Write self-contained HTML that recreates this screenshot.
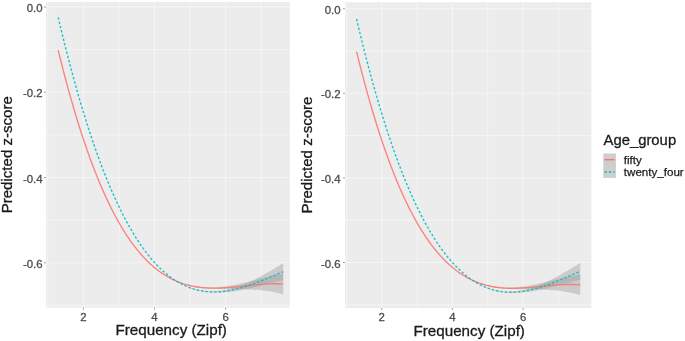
<!DOCTYPE html>
<html><head><meta charset="utf-8"><style>
html,body{margin:0;padding:0;background:#fff;}
body{width:685px;height:341px;overflow:hidden;}
svg{display:block;filter:blur(0.55px);}
text{font-family:"Liberation Sans",sans-serif;}
.tk{font-size:11.4px;fill:#4D4D4D;stroke:#4D4D4D;stroke-width:0.3px;}
.ti{font-size:15.2px;fill:#1a1a1a;stroke:#1a1a1a;stroke-width:0.3px;}
.lt{font-size:14.85px;fill:#1a1a1a;stroke:#1a1a1a;stroke-width:0.3px;}
.ll{font-size:11.6px;fill:#1a1a1a;stroke:#1a1a1a;stroke-width:0.25px;}
</style></head><body>
<svg width="685" height="341" viewBox="0 0 685 341">
<rect width="685" height="341" fill="#fff"/>
<rect x="46" y="2" width="243.80" height="305.70" fill="#ECECEC"/>
<line x1="46" x2="289.8" y1="49.63" y2="49.63" stroke="#F6F6F6" stroke-width="0.9"/>
<line x1="46" x2="289.8" y1="134.90" y2="134.90" stroke="#F6F6F6" stroke-width="0.9"/>
<line x1="46" x2="289.8" y1="220.17" y2="220.17" stroke="#F6F6F6" stroke-width="0.9"/>
<line x1="46" x2="289.8" y1="305.44" y2="305.44" stroke="#F6F6F6" stroke-width="0.9"/>
<line x1="47.84" x2="47.84" y1="2" y2="307.7" stroke="#F6F6F6" stroke-width="0.9"/>
<line x1="118.96" x2="118.96" y1="2" y2="307.7" stroke="#F6F6F6" stroke-width="0.9"/>
<line x1="190.08" x2="190.08" y1="2" y2="307.7" stroke="#F6F6F6" stroke-width="0.9"/>
<line x1="261.20" x2="261.20" y1="2" y2="307.7" stroke="#F6F6F6" stroke-width="0.9"/>
<line x1="46" x2="289.8" y1="7.00" y2="7.00" stroke="#F6F6F6" stroke-width="1.0"/>
<line x1="46" x2="289.8" y1="92.27" y2="92.27" stroke="#F6F6F6" stroke-width="1.0"/>
<line x1="46" x2="289.8" y1="177.54" y2="177.54" stroke="#F6F6F6" stroke-width="1.0"/>
<line x1="46" x2="289.8" y1="262.81" y2="262.81" stroke="#F6F6F6" stroke-width="1.0"/>
<line x1="83.40" x2="83.40" y1="2" y2="307.7" stroke="#F6F6F6" stroke-width="1.0"/>
<line x1="154.52" x2="154.52" y1="2" y2="307.7" stroke="#F6F6F6" stroke-width="1.0"/>
<line x1="225.64" x2="225.64" y1="2" y2="307.7" stroke="#F6F6F6" stroke-width="1.0"/>
<path d="M188.00,284.69 L189.38,285.04 L190.76,285.36 L192.14,285.65 L193.52,285.93 L194.90,286.18 L196.28,286.41 L197.66,286.62 L199.04,286.81 L200.42,286.98 L201.80,287.12 L203.18,287.25 L204.56,287.34 L205.94,287.42 L207.32,287.47 L208.70,287.50 L210.08,287.51 L211.46,287.50 L212.83,287.47 L214.21,287.42 L215.59,287.35 L216.97,287.27 L218.35,287.16 L219.73,287.04 L221.11,286.91 L222.49,286.75 L223.87,286.59 L225.25,286.40 L226.63,286.21 L228.01,286.00 L229.39,285.78 L230.77,285.54 L232.15,285.30 L233.53,285.04 L234.91,284.78 L236.29,284.50 L237.67,284.22 L239.05,283.92 L240.43,283.62 L241.81,283.31 L243.19,282.99 L244.57,282.67 L245.95,282.34 L247.33,282.01 L248.71,281.67 L250.09,281.33 L251.47,280.99 L252.85,280.64 L254.23,280.29 L255.61,279.94 L256.99,279.59 L258.37,279.23 L259.74,278.88 L261.12,278.53 L262.50,278.18 L263.88,277.83 L265.26,277.48 L266.64,277.14 L268.02,276.80 L269.40,276.46 L270.78,276.13 L272.16,275.80 L273.54,275.48 L274.92,275.16 L276.30,274.86 L277.68,274.55 L279.06,274.26 L280.44,273.98 L281.82,273.70 L283.20,273.43 L283.20,294.43 L281.82,294.03 L280.44,293.66 L279.06,293.30 L277.68,292.96 L276.30,292.64 L274.92,292.34 L273.54,292.06 L272.16,291.80 L270.78,291.55 L269.40,291.32 L268.02,291.10 L266.64,290.90 L265.26,290.71 L263.88,290.54 L262.50,290.38 L261.12,290.23 L259.74,290.10 L258.37,289.98 L256.99,289.86 L255.61,289.76 L254.23,289.67 L252.85,289.59 L251.47,289.52 L250.09,289.45 L248.71,289.40 L247.33,289.35 L245.95,289.31 L244.57,289.27 L243.19,289.24 L241.81,289.21 L240.43,289.19 L239.05,289.17 L237.67,289.16 L236.29,289.14 L234.91,289.13 L233.53,289.12 L232.15,289.12 L230.77,289.11 L229.39,289.10 L228.01,289.09 L226.63,289.08 L225.25,289.07 L223.87,289.05 L222.49,289.03 L221.11,289.01 L219.73,288.98 L218.35,288.95 L216.97,288.91 L215.59,288.86 L214.21,288.81 L212.83,288.75 L211.46,288.69 L210.08,288.61 L208.70,288.52 L207.32,288.43 L205.94,288.32 L204.56,288.20 L203.18,288.08 L201.80,287.93 L200.42,287.78 L199.04,287.61 L197.66,287.42 L196.28,287.21 L194.90,286.98 L193.52,286.73 L192.14,286.45 L190.76,286.16 L189.38,285.84 L188.00,285.49 Z" fill="#999" fill-opacity="0.4"/>
<path d="M188.00,286.62 L189.38,287.15 L190.76,287.65 L192.14,288.12 L193.52,288.56 L194.90,288.96 L196.28,289.33 L197.66,289.67 L199.04,289.98 L200.42,290.26 L201.80,290.51 L203.18,290.72 L204.56,290.91 L205.94,291.05 L207.32,291.17 L208.70,291.25 L210.08,291.31 L211.46,291.33 L212.83,291.33 L214.21,291.29 L215.59,291.22 L216.97,291.13 L218.35,291.01 L219.73,290.86 L221.11,290.69 L222.49,290.48 L223.87,290.25 L225.25,290.00 L226.63,289.72 L228.01,289.42 L229.39,289.09 L230.77,288.74 L232.15,288.37 L233.53,287.97 L234.91,287.55 L236.29,287.12 L237.67,286.66 L239.05,286.17 L240.43,285.67 L241.81,285.15 L243.19,284.62 L244.57,284.06 L245.95,283.48 L247.33,282.89 L248.71,282.28 L250.09,281.66 L251.47,281.02 L252.85,280.36 L254.23,279.69 L255.61,279.00 L256.99,278.30 L258.37,277.59 L259.74,276.86 L261.12,276.13 L262.50,275.38 L263.88,274.62 L265.26,273.84 L266.64,273.06 L268.02,272.27 L269.40,271.47 L270.78,270.66 L272.16,269.84 L273.54,269.02 L274.92,268.19 L276.30,267.35 L277.68,266.50 L279.06,265.65 L280.44,264.80 L281.82,263.94 L283.20,263.07 L283.20,280.07 L281.82,280.41 L280.44,280.74 L279.06,281.08 L277.68,281.43 L276.30,281.77 L274.92,282.12 L273.54,282.48 L272.16,282.83 L270.78,283.19 L269.40,283.54 L268.02,283.90 L266.64,284.26 L265.26,284.61 L263.88,284.97 L262.50,285.32 L261.12,285.67 L259.74,286.02 L258.37,286.36 L256.99,286.70 L255.61,287.04 L254.23,287.37 L252.85,287.70 L251.47,288.01 L250.09,288.33 L248.71,288.63 L247.33,288.93 L245.95,289.22 L244.57,289.51 L243.19,289.78 L241.81,290.05 L240.43,290.30 L239.05,290.54 L237.67,290.78 L236.29,291.00 L234.91,291.21 L233.53,291.40 L232.15,291.59 L230.77,291.76 L229.39,291.91 L228.01,292.06 L226.63,292.18 L225.25,292.29 L223.87,292.39 L222.49,292.47 L221.11,292.53 L219.73,292.57 L218.35,292.60 L216.97,292.61 L215.59,292.59 L214.21,292.56 L212.83,292.51 L211.46,292.44 L210.08,292.35 L208.70,292.23 L207.32,292.10 L205.94,291.94 L204.56,291.75 L203.18,291.55 L201.80,291.32 L200.42,291.06 L199.04,290.78 L197.66,290.47 L196.28,290.13 L194.90,289.76 L193.52,289.36 L192.14,288.92 L190.76,288.45 L189.38,287.95 L188.00,287.42 Z" fill="#999" fill-opacity="0.4"/>
<path d="M58.20,50.20 L59.82,56.77 L61.44,63.22 L63.06,69.55 L64.67,75.75 L66.29,81.84 L67.91,87.81 L69.53,93.67 L71.15,99.41 L72.77,105.04 L74.39,110.55 L76.01,115.95 L77.62,121.24 L79.24,126.43 L80.86,131.50 L82.48,136.47 L84.10,141.33 L85.72,146.09 L87.34,150.75 L88.96,155.30 L90.57,159.75 L92.19,164.11 L93.81,168.36 L95.43,172.52 L97.05,176.58 L98.67,180.55 L100.29,184.42 L101.91,188.20 L103.52,191.88 L105.14,195.48 L106.76,198.99 L108.38,202.41 L110.00,205.74 L111.62,208.99 L113.24,212.15 L114.85,215.23 L116.47,218.22 L118.09,221.14 L119.71,223.97 L121.33,226.73 L122.95,229.41 L124.57,232.01 L126.19,234.53 L127.80,236.98 L129.42,239.36 L131.04,241.66 L132.66,243.89 L134.28,246.05 L135.90,248.15 L137.52,250.17 L139.14,252.13 L140.75,254.02 L142.37,255.85 L143.99,257.61 L145.61,259.31 L147.23,260.95 L148.85,262.53 L150.47,264.04 L152.08,265.50 L153.70,266.91 L155.32,268.25 L156.94,269.55 L158.56,270.78 L160.18,271.97 L161.80,273.10 L163.42,274.18 L165.03,275.22 L166.65,276.20 L168.27,277.13 L169.89,278.02 L171.51,278.87 L173.13,279.66 L174.75,280.42 L176.37,281.13 L177.98,281.80 L179.60,282.43 L181.22,283.02 L182.84,283.57 L184.46,284.09 L186.08,284.57 L187.70,285.01 L189.32,285.42 L190.93,285.80 L192.55,286.14 L194.17,286.45 L195.79,286.73 L197.41,286.98 L199.03,287.21 L200.65,287.41 L202.26,287.58 L203.88,287.72 L205.50,287.84 L207.12,287.94 L208.74,288.01 L210.36,288.07 L211.98,288.10 L213.60,288.12 L215.21,288.11 L216.83,288.09 L218.45,288.05 L220.07,288.00 L221.69,287.93 L223.31,287.85 L224.93,287.76 L226.55,287.65 L228.16,287.53 L229.78,287.41 L231.40,287.27 L233.02,287.13 L234.64,286.98 L236.26,286.83 L237.88,286.67 L239.49,286.50 L241.11,286.33 L242.73,286.16 L244.35,285.99 L245.97,285.82 L247.59,285.65 L249.21,285.48 L250.83,285.32 L252.44,285.16 L254.06,285.00 L255.68,284.84 L257.30,284.70 L258.92,284.56 L260.54,284.43 L262.16,284.30 L263.78,284.19 L265.39,284.09 L267.01,284.00 L268.63,283.92 L270.25,283.86 L271.87,283.81 L273.49,283.77 L275.11,283.75 L276.73,283.75 L278.34,283.77 L279.96,283.80 L281.58,283.86 L283.20,283.93" fill="none" stroke="#F8766D" stroke-width="1.35" stroke-opacity="0.88"/>
<path d="M58.20,17.30 L59.82,24.16 L61.44,30.90 L63.06,37.54 L64.67,44.08 L66.29,50.50 L67.91,56.83 L69.53,63.04 L71.15,69.16 L72.77,75.17 L74.39,81.08 L76.01,86.89 L77.62,92.60 L79.24,98.21 L80.86,103.72 L82.48,109.13 L84.10,114.44 L85.72,119.66 L87.34,124.78 L88.96,129.80 L90.57,134.74 L92.19,139.57 L93.81,144.32 L95.43,148.97 L97.05,153.53 L98.67,158.00 L100.29,162.38 L101.91,166.67 L103.52,170.88 L105.14,174.99 L106.76,179.02 L108.38,182.97 L110.00,186.82 L111.62,190.60 L113.24,194.29 L114.85,197.89 L116.47,201.42 L118.09,204.86 L119.71,208.22 L121.33,211.50 L122.95,214.71 L124.57,217.83 L126.19,220.88 L127.80,223.85 L129.42,226.74 L131.04,229.56 L132.66,232.31 L134.28,234.98 L135.90,237.58 L137.52,240.10 L139.14,242.56 L140.75,244.94 L142.37,247.25 L143.99,249.50 L145.61,251.68 L147.23,253.79 L148.85,255.83 L150.47,257.81 L152.08,259.72 L153.70,261.56 L155.32,263.35 L156.94,265.07 L158.56,266.73 L160.18,268.33 L161.80,269.86 L163.42,271.34 L165.03,272.76 L166.65,274.12 L168.27,275.43 L169.89,276.67 L171.51,277.87 L173.13,279.00 L174.75,280.09 L176.37,281.12 L177.98,282.09 L179.60,283.02 L181.22,283.89 L182.84,284.72 L184.46,285.49 L186.08,286.22 L187.70,286.90 L189.32,287.53 L190.93,288.12 L192.55,288.66 L194.17,289.15 L195.79,289.60 L197.41,290.01 L199.03,290.38 L200.65,290.71 L202.26,290.99 L203.88,291.24 L205.50,291.45 L207.12,291.61 L208.74,291.75 L210.36,291.84 L211.98,291.90 L213.60,291.93 L215.21,291.92 L216.83,291.87 L218.45,291.80 L220.07,291.69 L221.69,291.55 L223.31,291.39 L224.93,291.19 L226.55,290.96 L228.16,290.71 L229.78,290.43 L231.40,290.13 L233.02,289.80 L234.64,289.44 L236.26,289.06 L237.88,288.66 L239.49,288.24 L241.11,287.80 L242.73,287.33 L244.35,286.85 L245.97,286.35 L247.59,285.83 L249.21,285.29 L250.83,284.74 L252.44,284.17 L254.06,283.59 L255.68,282.99 L257.30,282.38 L258.92,281.76 L260.54,281.13 L262.16,280.49 L263.78,279.84 L265.39,279.18 L267.01,278.51 L268.63,277.83 L270.25,277.15 L271.87,276.46 L273.49,275.77 L275.11,275.08 L276.73,274.38 L278.34,273.68 L279.96,272.98 L281.58,272.28 L283.20,271.57" fill="none" stroke="#00BFC4" stroke-width="1.4" stroke-opacity="0.9" stroke-dasharray="2.4 2.0"/>
<line x1="44" x2="46" y1="7.00" y2="7.00" stroke="#777" stroke-width="0.7"/>
<text x="42.6" y="12.00" text-anchor="end" class="tk">0.0</text>
<line x1="44" x2="46" y1="92.27" y2="92.27" stroke="#777" stroke-width="0.7"/>
<text x="42.6" y="97.27" text-anchor="end" class="tk">-0.2</text>
<line x1="44" x2="46" y1="177.54" y2="177.54" stroke="#777" stroke-width="0.7"/>
<text x="42.6" y="182.54" text-anchor="end" class="tk">-0.4</text>
<line x1="44" x2="46" y1="262.81" y2="262.81" stroke="#777" stroke-width="0.7"/>
<text x="42.6" y="267.81" text-anchor="end" class="tk">-0.6</text>
<line x1="83.40" x2="83.40" y1="307.7" y2="309.7" stroke="#777" stroke-width="0.7"/>
<text x="83.40" y="320.8" text-anchor="middle" class="tk">2</text>
<line x1="154.52" x2="154.52" y1="307.7" y2="309.7" stroke="#777" stroke-width="0.7"/>
<text x="154.52" y="320.8" text-anchor="middle" class="tk">4</text>
<line x1="225.64" x2="225.64" y1="307.7" y2="309.7" stroke="#777" stroke-width="0.7"/>
<text x="225.64" y="320.8" text-anchor="middle" class="tk">6</text>
<text x="115.5" y="335.0" class="ti">Frequency (Zipf)</text>
<text transform="translate(12.1,213.3) rotate(-90)" class="ti" style="font-size:15.05px">Predicted z-score</text>
<rect x="345" y="2.4" width="246.30" height="305.70" fill="#ECECEC"/>
<line x1="345" x2="591.3" y1="51.00" y2="51.00" stroke="#F6F6F6" stroke-width="0.9"/>
<line x1="345" x2="591.3" y1="135.60" y2="135.60" stroke="#F6F6F6" stroke-width="0.9"/>
<line x1="345" x2="591.3" y1="220.20" y2="220.20" stroke="#F6F6F6" stroke-width="0.9"/>
<line x1="345" x2="591.3" y1="304.80" y2="304.80" stroke="#F6F6F6" stroke-width="0.9"/>
<line x1="346.36" x2="346.36" y1="2.4" y2="308.1" stroke="#F6F6F6" stroke-width="0.9"/>
<line x1="417.04" x2="417.04" y1="2.4" y2="308.1" stroke="#F6F6F6" stroke-width="0.9"/>
<line x1="487.72" x2="487.72" y1="2.4" y2="308.1" stroke="#F6F6F6" stroke-width="0.9"/>
<line x1="558.40" x2="558.40" y1="2.4" y2="308.1" stroke="#F6F6F6" stroke-width="0.9"/>
<line x1="345" x2="591.3" y1="8.70" y2="8.70" stroke="#F6F6F6" stroke-width="1.0"/>
<line x1="345" x2="591.3" y1="93.30" y2="93.30" stroke="#F6F6F6" stroke-width="1.0"/>
<line x1="345" x2="591.3" y1="177.90" y2="177.90" stroke="#F6F6F6" stroke-width="1.0"/>
<line x1="345" x2="591.3" y1="262.50" y2="262.50" stroke="#F6F6F6" stroke-width="1.0"/>
<line x1="381.70" x2="381.70" y1="2.4" y2="308.1" stroke="#F6F6F6" stroke-width="1.0"/>
<line x1="452.38" x2="452.38" y1="2.4" y2="308.1" stroke="#F6F6F6" stroke-width="1.0"/>
<line x1="523.06" x2="523.06" y1="2.4" y2="308.1" stroke="#F6F6F6" stroke-width="1.0"/>
<path d="M485.61,284.65 L486.98,285.01 L488.36,285.34 L489.73,285.65 L491.10,285.94 L492.47,286.21 L493.84,286.45 L495.22,286.68 L496.59,286.88 L497.96,287.06 L499.33,287.22 L500.70,287.36 L502.08,287.47 L503.45,287.56 L504.82,287.63 L506.19,287.68 L507.56,287.70 L508.93,287.69 L510.31,287.66 L511.68,287.61 L513.05,287.55 L514.42,287.46 L515.79,287.36 L517.17,287.24 L518.54,287.10 L519.91,286.95 L521.28,286.78 L522.65,286.60 L524.03,286.41 L525.40,286.20 L526.77,285.99 L528.14,285.76 L529.51,285.52 L530.89,285.27 L532.26,285.01 L533.63,284.74 L535.00,284.46 L536.37,284.18 L537.75,283.89 L539.12,283.59 L540.49,283.29 L541.86,282.98 L543.23,282.67 L544.61,282.35 L545.98,282.03 L547.35,281.70 L548.72,281.37 L550.09,281.04 L551.46,280.71 L552.84,280.38 L554.21,280.05 L555.58,279.72 L556.95,279.39 L558.32,279.06 L559.70,278.73 L561.07,278.41 L562.44,278.08 L563.81,277.77 L565.18,277.45 L566.56,277.14 L567.93,276.84 L569.30,276.54 L570.67,276.25 L572.04,275.96 L573.42,275.68 L574.79,275.42 L576.16,275.15 L577.53,274.90 L578.90,274.66 L580.28,274.43 L580.28,295.26 L578.90,294.84 L577.53,294.43 L576.16,294.04 L574.79,293.68 L573.42,293.33 L572.04,293.01 L570.67,292.70 L569.30,292.41 L567.93,292.14 L566.56,291.88 L565.18,291.64 L563.81,291.42 L562.44,291.21 L561.07,291.02 L559.70,290.84 L558.32,290.67 L556.95,290.52 L555.58,290.37 L554.21,290.25 L552.84,290.13 L551.46,290.02 L550.09,289.92 L548.72,289.84 L547.35,289.76 L545.98,289.69 L544.61,289.63 L543.23,289.57 L541.86,289.52 L540.49,289.48 L539.12,289.45 L537.75,289.42 L536.37,289.39 L535.00,289.37 L533.63,289.35 L532.26,289.33 L530.89,289.32 L529.51,289.30 L528.14,289.29 L526.77,289.28 L525.40,289.27 L524.03,289.26 L522.65,289.24 L521.28,289.23 L519.91,289.21 L518.54,289.19 L517.17,289.16 L515.79,289.13 L514.42,289.09 L513.05,289.04 L511.68,288.99 L510.31,288.93 L508.93,288.87 L507.56,288.79 L506.19,288.69 L504.82,288.58 L503.45,288.46 L502.08,288.33 L500.70,288.18 L499.33,288.03 L497.96,287.86 L496.59,287.67 L495.22,287.47 L493.84,287.25 L492.47,287.00 L491.10,286.73 L489.73,286.45 L488.36,286.14 L486.98,285.80 L485.61,285.44 Z" fill="#999" fill-opacity="0.4"/>
<path d="M485.61,286.90 L486.98,287.44 L488.36,287.96 L489.73,288.44 L491.10,288.88 L492.47,289.29 L493.84,289.67 L495.22,290.02 L496.59,290.34 L497.96,290.62 L499.33,290.87 L500.70,291.09 L502.08,291.27 L503.45,291.41 L504.82,291.53 L506.19,291.61 L507.56,291.66 L508.93,291.67 L510.31,291.66 L511.68,291.61 L513.05,291.54 L514.42,291.43 L515.79,291.30 L517.17,291.13 L518.54,290.94 L519.91,290.72 L521.28,290.48 L522.65,290.21 L524.03,289.91 L525.40,289.59 L526.77,289.24 L528.14,288.87 L529.51,288.48 L530.89,288.06 L532.26,287.62 L533.63,287.17 L535.00,286.69 L536.37,286.18 L537.75,285.67 L539.12,285.13 L540.49,284.57 L541.86,283.99 L543.23,283.40 L544.61,282.79 L545.98,282.17 L547.35,281.53 L548.72,280.87 L550.09,280.20 L551.46,279.52 L552.84,278.82 L554.21,278.11 L555.58,277.38 L556.95,276.65 L558.32,275.90 L559.70,275.14 L561.07,274.37 L562.44,273.60 L563.81,272.81 L565.18,272.01 L566.56,271.21 L567.93,270.40 L569.30,269.58 L570.67,268.75 L572.04,267.92 L573.42,267.08 L574.79,266.23 L576.16,265.38 L577.53,264.53 L578.90,263.67 L580.28,262.81 L580.28,279.67 L578.90,280.01 L577.53,280.34 L576.16,280.69 L574.79,281.04 L573.42,281.39 L572.04,281.74 L570.67,282.10 L569.30,282.46 L567.93,282.82 L566.56,283.19 L565.18,283.55 L563.81,283.92 L562.44,284.28 L561.07,284.64 L559.70,285.01 L558.32,285.37 L556.95,285.73 L555.58,286.09 L554.21,286.44 L552.84,286.79 L551.46,287.14 L550.09,287.48 L548.72,287.81 L547.35,288.15 L545.98,288.47 L544.61,288.79 L543.23,289.10 L541.86,289.40 L540.49,289.69 L539.12,289.98 L537.75,290.25 L536.37,290.52 L535.00,290.77 L533.63,291.02 L532.26,291.25 L530.89,291.47 L529.51,291.67 L528.14,291.86 L526.77,292.04 L525.40,292.20 L524.03,292.35 L522.65,292.48 L521.28,292.59 L519.91,292.69 L518.54,292.77 L517.17,292.83 L515.79,292.87 L514.42,292.89 L513.05,292.89 L511.68,292.88 L510.31,292.83 L508.93,292.77 L507.56,292.69 L506.19,292.58 L504.82,292.45 L503.45,292.29 L502.08,292.11 L500.70,291.90 L499.33,291.67 L497.96,291.42 L496.59,291.13 L495.22,290.82 L493.84,290.47 L492.47,290.09 L491.10,289.68 L489.73,289.23 L488.36,288.75 L486.98,288.24 L485.61,287.69 Z" fill="#999" fill-opacity="0.4"/>
<path d="M356.54,51.56 L358.15,58.08 L359.76,64.48 L361.37,70.75 L362.98,76.91 L364.59,82.95 L366.20,88.88 L367.81,94.69 L369.42,100.38 L371.03,105.96 L372.64,111.44 L374.25,116.80 L375.86,122.05 L377.47,127.19 L379.08,132.22 L380.69,137.15 L382.30,141.98 L383.91,146.70 L385.52,151.32 L387.13,155.84 L388.73,160.25 L390.34,164.57 L391.95,168.79 L393.56,172.92 L395.17,176.95 L396.78,180.88 L398.39,184.72 L400.00,188.47 L401.61,192.13 L403.22,195.70 L404.83,199.18 L406.44,202.57 L408.05,205.88 L409.66,209.10 L411.27,212.24 L412.88,215.29 L414.49,218.27 L416.10,221.16 L417.71,223.97 L419.32,226.70 L420.93,229.36 L422.54,231.94 L424.15,234.44 L425.76,236.87 L427.36,239.23 L428.97,241.51 L430.58,243.73 L432.19,245.87 L433.80,247.95 L435.41,249.96 L437.02,251.90 L438.63,253.78 L440.24,255.59 L441.85,257.34 L443.46,259.03 L445.07,260.65 L446.68,262.22 L448.29,263.73 L449.90,265.20 L451.51,266.61 L453.12,267.96 L454.73,269.26 L456.34,270.51 L457.95,271.70 L459.56,272.85 L461.17,273.94 L462.78,274.98 L464.39,275.98 L465.99,276.92 L467.60,277.82 L469.21,278.68 L470.82,279.49 L472.43,280.26 L474.04,280.98 L475.65,281.67 L477.26,282.31 L478.87,282.91 L480.48,283.48 L482.09,284.01 L483.70,284.50 L485.31,284.96 L486.92,285.39 L488.53,285.78 L490.14,286.14 L491.75,286.47 L493.36,286.76 L494.97,287.03 L496.58,287.27 L498.19,287.49 L499.80,287.68 L501.41,287.84 L503.02,287.98 L504.62,288.09 L506.23,288.19 L507.84,288.25 L509.45,288.29 L511.06,288.30 L512.67,288.30 L514.28,288.28 L515.89,288.24 L517.50,288.19 L519.11,288.12 L520.72,288.04 L522.33,287.94 L523.94,287.84 L525.55,287.73 L527.16,287.60 L528.77,287.47 L530.38,287.34 L531.99,287.19 L533.60,287.05 L535.21,286.90 L536.82,286.74 L538.43,286.59 L540.04,286.43 L541.65,286.27 L543.26,286.12 L544.86,285.96 L546.47,285.81 L548.08,285.66 L549.69,285.52 L551.30,285.38 L552.91,285.25 L554.52,285.12 L556.13,285.01 L557.74,284.90 L559.35,284.80 L560.96,284.72 L562.57,284.64 L564.18,284.58 L565.79,284.53 L567.40,284.50 L569.01,284.48 L570.62,284.47 L572.23,284.49 L573.84,284.52 L575.45,284.57 L577.06,284.64 L578.67,284.73 L580.28,284.85" fill="none" stroke="#F8766D" stroke-width="1.35" stroke-opacity="0.88"/>
<path d="M356.54,18.92 L358.15,25.72 L359.76,32.41 L361.37,39.00 L362.98,45.48 L364.59,51.86 L366.20,58.13 L367.81,64.30 L369.42,70.37 L371.03,76.33 L372.64,82.20 L374.25,87.96 L375.86,93.62 L377.47,99.19 L379.08,104.66 L380.69,110.02 L382.30,115.30 L383.91,120.47 L385.52,125.55 L387.13,130.54 L388.73,135.43 L390.34,140.23 L391.95,144.94 L393.56,149.56 L395.17,154.08 L396.78,158.52 L398.39,162.87 L400.00,167.12 L401.61,171.30 L403.22,175.38 L404.83,179.38 L406.44,183.29 L408.05,187.12 L409.66,190.87 L411.27,194.53 L412.88,198.11 L414.49,201.61 L416.10,205.03 L417.71,208.36 L419.32,211.62 L420.93,214.81 L422.54,217.91 L424.15,220.94 L425.76,223.89 L427.36,226.77 L428.97,229.57 L430.58,232.30 L432.19,234.96 L433.80,237.55 L435.41,240.06 L437.02,242.51 L438.63,244.89 L440.24,247.20 L441.85,249.44 L443.46,251.61 L445.07,253.72 L446.68,255.76 L448.29,257.74 L449.90,259.66 L451.51,261.51 L453.12,263.30 L454.73,265.03 L456.34,266.70 L457.95,268.30 L459.56,269.85 L461.17,271.35 L462.78,272.78 L464.39,274.16 L465.99,275.48 L467.60,276.74 L469.21,277.95 L470.82,279.11 L472.43,280.21 L474.04,281.26 L475.65,282.25 L477.26,283.20 L478.87,284.09 L480.48,284.94 L482.09,285.73 L483.70,286.47 L485.31,287.17 L486.92,287.82 L488.53,288.42 L490.14,288.97 L491.75,289.48 L493.36,289.94 L494.97,290.36 L496.58,290.73 L498.19,291.06 L499.80,291.35 L501.41,291.60 L503.02,291.80 L504.62,291.97 L506.23,292.10 L507.84,292.18 L509.45,292.23 L511.06,292.25 L512.67,292.23 L514.28,292.17 L515.89,292.08 L517.50,291.95 L519.11,291.80 L520.72,291.61 L522.33,291.39 L523.94,291.14 L525.55,290.87 L527.16,290.57 L528.77,290.24 L530.38,289.88 L531.99,289.50 L533.60,289.10 L535.21,288.67 L536.82,288.23 L538.43,287.76 L540.04,287.27 L541.65,286.77 L543.26,286.24 L544.86,285.70 L546.47,285.14 L548.08,284.57 L549.69,283.99 L551.30,283.39 L552.91,282.77 L554.52,282.15 L556.13,281.52 L557.74,280.87 L559.35,280.22 L560.96,279.55 L562.57,278.88 L564.18,278.21 L565.79,277.52 L567.40,276.84 L569.01,276.14 L570.62,275.45 L572.23,274.75 L573.84,274.05 L575.45,273.35 L577.06,272.64 L578.67,271.94 L580.28,271.24" fill="none" stroke="#00BFC4" stroke-width="1.4" stroke-opacity="0.9" stroke-dasharray="2.4 2.0"/>
<line x1="343" x2="345" y1="8.70" y2="8.70" stroke="#777" stroke-width="0.7"/>
<text x="340.6" y="13.70" text-anchor="end" class="tk">0.0</text>
<line x1="343" x2="345" y1="93.30" y2="93.30" stroke="#777" stroke-width="0.7"/>
<text x="340.6" y="98.30" text-anchor="end" class="tk">-0.2</text>
<line x1="343" x2="345" y1="177.90" y2="177.90" stroke="#777" stroke-width="0.7"/>
<text x="340.6" y="182.90" text-anchor="end" class="tk">-0.4</text>
<line x1="343" x2="345" y1="262.50" y2="262.50" stroke="#777" stroke-width="0.7"/>
<text x="340.6" y="267.50" text-anchor="end" class="tk">-0.6</text>
<line x1="381.70" x2="381.70" y1="308.1" y2="310.1" stroke="#777" stroke-width="0.7"/>
<text x="381.70" y="321.4" text-anchor="middle" class="tk">2</text>
<line x1="452.38" x2="452.38" y1="308.1" y2="310.1" stroke="#777" stroke-width="0.7"/>
<text x="452.38" y="321.4" text-anchor="middle" class="tk">4</text>
<line x1="523.06" x2="523.06" y1="308.1" y2="310.1" stroke="#777" stroke-width="0.7"/>
<text x="523.06" y="321.4" text-anchor="middle" class="tk">6</text>
<text x="413.5" y="335.8" class="ti">Frequency (Zipf)</text>
<text transform="translate(311.6,213.6) rotate(-90)" class="ti" style="font-size:15.05px">Predicted z-score</text>

<text x="603.5" y="144.8" class="lt">Age_group</text>
<rect x="603.3" y="153.5" width="12.6" height="24.4" fill="#CECECE"/>
<line x1="604.5" x2="614.6" y1="159.7" y2="159.7" stroke="#F8766D" stroke-width="1.5"/>
<line x1="604.5" x2="614.6" y1="172.0" y2="172.0" stroke="#00BFC4" stroke-width="1.5" stroke-dasharray="2.4 2.0"/>
<text x="623.8" y="163.9" class="ll">fifty</text>
<text x="623.8" y="176.0" class="ll">twenty_four</text>

</svg>
</body></html>
